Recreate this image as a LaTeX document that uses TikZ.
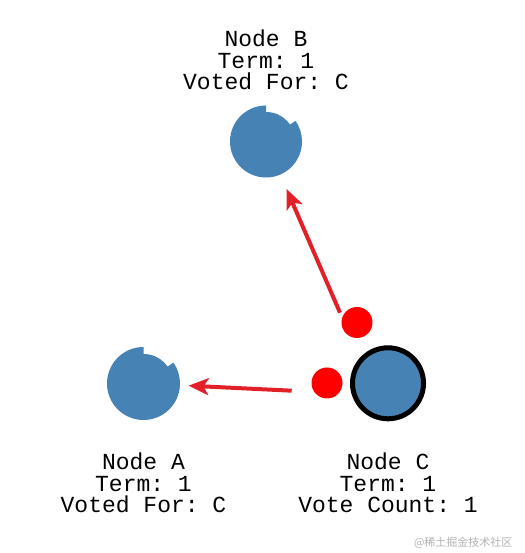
\documentclass[tikz,border=0pt]{standalone}
\usepackage{fontspec}
\setmonofont{Liberation Mono}
\newfontfamily\cjkfont{Noto Sans CJK SC}
\usetikzlibrary{arrows.meta,positioning}
\definecolor{steel}{RGB}{70,130,180}
\definecolor{msgred}{RGB}{226,32,40}

\begin{document}
\begin{tikzpicture}[x=1pt, y=1pt, >={Stealth[length=20pt, width=17pt, inset=5pt]},
  srv/.style={circle, fill=steel, inner sep=0pt, minimum size=59pt},
  vote/.style={circle, fill=red, inner sep=0pt, minimum size=31pt},
  info/.style={align=center, font=\ttfamily\fontsize{23}{21.5}\selectfont},
  msg/.style={->, draw=msgred, line width=4pt}]
\useasboundingbox (0,0) rectangle (524,553);
\node[srv] (nodeA) at (143.5,169.5) {};
\node[srv] (nodeB) at (266,411.5) {};
\node[srv, minimum size=71pt, draw=black, line width=5pt] (nodeC) at (388,169.7) {};
\foreach \n/\r in {nodeA/36.5, nodeB/36}
  \fill[steel] (\n.center) -- ++(90:\r) arc[start angle=90, end angle=395, radius=\r] -- cycle;
\node[info] (labA) at (143.5,70) {Node A\\Term: 1\\Voted For: C};
\node[info] (labB) at (266,493) {Node B\\Term: 1\\Voted For: C};
\node[info] (labC) at (388,70) {Node C\\Term: 1\\Vote Count: 1};
\node[vote] (voteB) at (357,230.5) {};
\node[vote] (voteA) at (327,170) {};
\coordinate (fromB) at ([shift={(-17,9.8)}]voteB.center);
\coordinate (fromA) at ([shift={(-35.3,-7.7)}]voteA.center);
\draw[msg, shorten >=22pt] (fromB) -- (nodeB);
\draw[msg, shorten >=15.4pt] (fromA) -- (nodeA);
\node[text=gray!60, font=\cjkfont\fontsize{11}{11}\selectfont, anchor=east] (mark) at (516,10) {@稀土掘金技术社区};
\end{tikzpicture}
\end{document}
